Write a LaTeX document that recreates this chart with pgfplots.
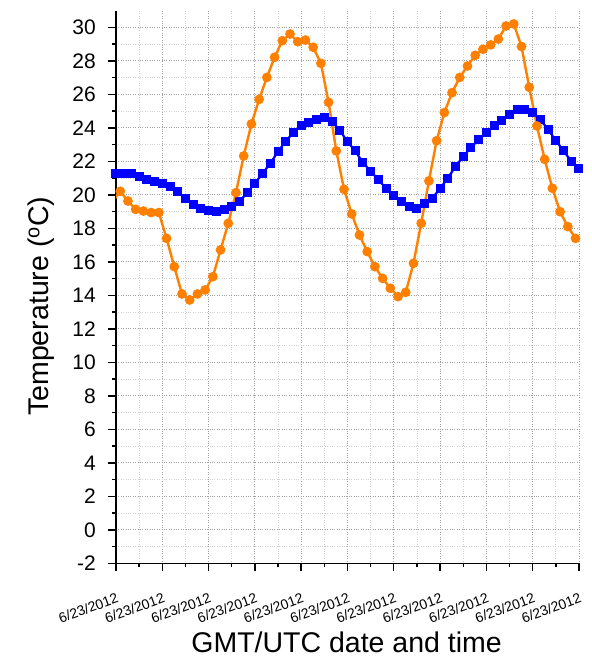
\documentclass[border=0pt]{standalone}
\usepackage{fontspec}
\setmainfont{Liberation Sans}
\usepackage{pgfplots}
\pgfplotsset{compat=1.18}
\definecolor{cblue}{RGB}{0,0,255}
\definecolor{corange}{RGB}{255,128,0}
\begin{document}
\begin{tikzpicture}
\begin{axis}[
  scale only axis,
  width=463pt, height=552.75pt,
  xmin=0, xmax=60, ymin=-2, ymax=31,
  axis lines*=left,
  axis line style={line width=1.6pt},
  tick align=outside,
  major tick length=8pt, minor tick length=4pt,
  tick style={black, line width=1.4pt},
  xtick={0,6,...,60},
  xticklabels={6/23/2012,6/23/2012,6/23/2012,6/23/2012,6/23/2012,6/23/2012,6/23/2012,6/23/2012,6/23/2012,6/23/2012,6/23/2012},
  minor x tick num=1,
  ytick={-2,0,...,30},
  yticklabels={-2,0,2,4,6,8,10,12,14,16,18,20,22,24,26,28,30},
  minor y tick num=1,
  grid=both,
  major grid style={dotted, line width=0.8pt, gray!75},
  minor grid style={dotted, line width=0.8pt, gray!35},
  xticklabel style={font=\fontsize{14}{16}\selectfont, rotate=20, anchor=north east, inner sep=0pt, xshift=-7.2pt, yshift=-19.7pt},
  yticklabel style={font=\fontsize{21}{24}\selectfont, anchor=east, inner sep=0pt, xshift=-12pt},
  xlabel={GMT/UTC date and time},
  ylabel={Temperature (\textsuperscript{o}C)},
  label style={font=\fontsize{28.5}{34}\selectfont},
  xlabel style={at={(axis description cs:0.498,-0.161)}, anchor=base},
  ylabel style={at={(axis description cs:-0.146,0.465)}, anchor=base},
]
\coordinate (O) at (rel axis cs:0,0);
\addplot[cblue, line width=2.2pt, mark=square*, mark size=3.4pt] coordinates {
(0,21.28) (1,21.28) (2,21.28) (3,21.08) (4,20.89) (5,20.79) (6,20.69) (7,20.49) (8,20.21) (9,19.77)
(10,19.41) (11,19.19) (12,19.09) (13,19.01) (14,19.13) (15,19.31) (16,19.59) (17,20.13) (18,20.69) (19,21.28)
(20,21.88) (21,22.58) (22,23.21) (23,23.71) (24,24.11) (25,24.31) (26,24.51) (27,24.63) (28,24.37) (29,23.85)
(30,23.17) (31,22.62) (32,21.92) (33,21.42) (34,20.89) (35,20.39) (36,19.93) (37,19.59) (38,19.33) (39,19.19)
(40,19.49) (41,19.79) (42,20.39) (43,20.99) (44,21.70) (45,22.28) (46,22.82) (47,23.31) (48,23.71) (49,24.11)
(50,24.43) (51,24.77) (52,25.10) (53,25.10) (54,24.90) (55,24.47) (56,23.91) (57,23.23) (58,22.62) (59,22.00)
(60,21.56)
};
\addplot[corange, line width=2.4pt, mark=*, mark size=3.6pt] coordinates {
(-0.45,19.6) (0.55,20.21) (1.55,19.63) (2.55,19.13) (3.55,19.03) (4.55,18.94) (5.55,18.94) (6.55,17.40) (7.55,15.71) (8.55,14.08)
(9.55,13.72) (10.55,14.08) (11.55,14.32) (12.55,15.11) (13.55,16.71) (14.55,18.30) (15.55,20.13) (16.55,22.32) (17.55,24.23) (18.55,25.70)
(19.55,27.01) (20.55,28.21) (21.55,29.20) (22.55,29.60) (23.55,29.14) (24.55,29.24) (25.55,28.81) (26.55,27.85) (27.55,25.52) (28.55,22.62)
(29.55,20.33) (30.55,18.86) (31.55,17.60) (32.55,16.61) (33.55,15.71) (34.55,15.01) (35.55,14.42) (36.55,13.92) (37.55,14.18) (38.55,15.91)
(39.55,18.30) (40.55,20.83) (41.55,23.23) (42.55,24.91) (43.55,26.10) (44.55,27.01) (45.55,27.69) (46.55,28.33) (47.55,28.69) (48.55,28.95)
(49.55,29.30) (50.55,30.08) (51.55,30.20) (52.55,28.85) (53.55,26.42) (54.55,24.11) (55.55,22.12) (56.55,20.39) (57.55,18.99) (58.55,18.10)
(59.55,17.40)
};
\end{axis}
\pgfresetboundingbox
\path[use as bounding box] (O) ++(-116pt,-93.7pt) rectangle ++(592pt,657pt);
\end{tikzpicture}
\end{document}
